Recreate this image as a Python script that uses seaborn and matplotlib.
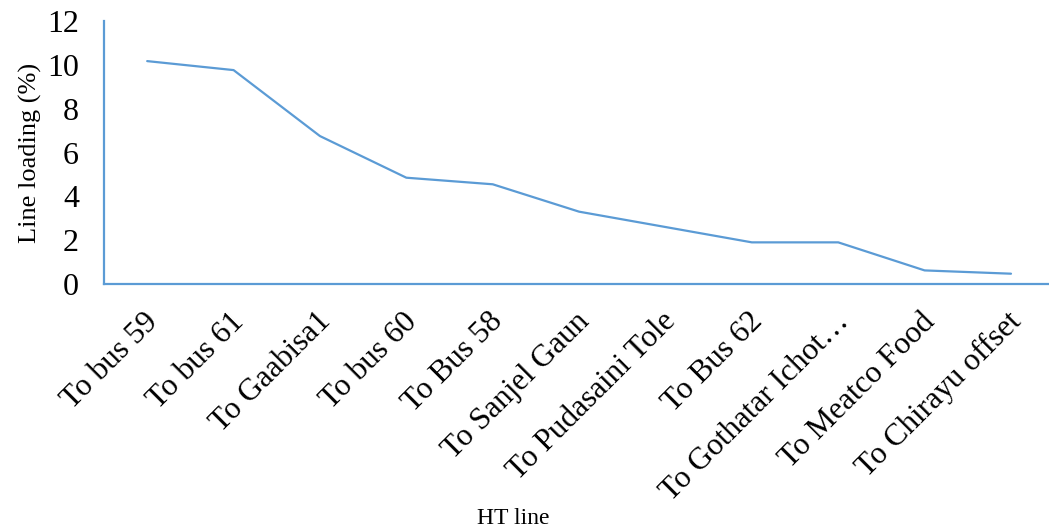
import matplotlib
matplotlib.use("Agg")
import matplotlib.pyplot as plt
import matplotlib.transforms as mtransforms
import seaborn as sns
import pandas as pd

categories = ["To bus 59", "To bus 61", "To Gaabisa1", "To bus 60", "To Bus 58",
              "To Sanjel Gaun", "To Pudasaini Tole", "To Bus 62",
              "To Gothatar Ichot\u2026", "To Meatco Food", "To Chirayu offset"]
loading = [10.17, 9.76, 6.75, 4.85, 4.55, 3.30, 2.60, 1.90, 1.90, 0.62, 0.47]
yticks = [0, 2, 4, 6, 8, 10, 12]

sns.set_theme(style="white")
plt.rcParams['font.family'] = ['Liberation Serif', 'DejaVu Serif']
plt.rcParams['text.color'] = 'black'
plt.rcParams['axes.labelcolor'] = 'black'
plt.rcParams['xtick.color'] = 'black'
plt.rcParams['ytick.color'] = 'black'

df = pd.DataFrame({"line": categories, "loading": loading})
color = "#5B9BD5"

fig = plt.figure(figsize=(10.49, 5.31), dpi=100)
ax = fig.add_axes([104/1049, 1-284/531, (1049-104)/1049, (284-21)/531])
sns.lineplot(data=df, x="line", y="loading", ax=ax, color=color, linewidth=1.6, sort=False)

ax.set_ylim(0, 12)
ax.set_xlim(-0.5, 10.44)
ax.set_yticks(yticks)
ax.set_yticklabels([str(v) for v in yticks], fontsize=23)
ax.set_xticks(range(len(categories)))
ax.set_xticklabels(categories, fontsize=22.5, rotation=45, ha="right", va="center",
                   rotation_mode="anchor")
ax.tick_params(axis="x", length=0, pad=24)
ax.tick_params(axis="y", length=0, pad=18)
offset = mtransforms.ScaledTranslation(6/100, 0, fig.dpi_scale_trans)
for lab in ax.get_xticklabels():
    lab.set_transform(lab.get_transform() + offset)

for s in ["top", "right"]:
    ax.spines[s].set_visible(False)
for s in ["left", "bottom"]:
    ax.spines[s].set_color(color)
    ax.spines[s].set_linewidth(1.6)

ax.set_ylabel("Line loading (%)", fontsize=19, labelpad=4)
ax.set_xlabel("")
fig.text(513/1049, 1-519/531, "HT line", fontsize=17, ha="center", va="center")

fig.savefig("out.png", dpi=100)
